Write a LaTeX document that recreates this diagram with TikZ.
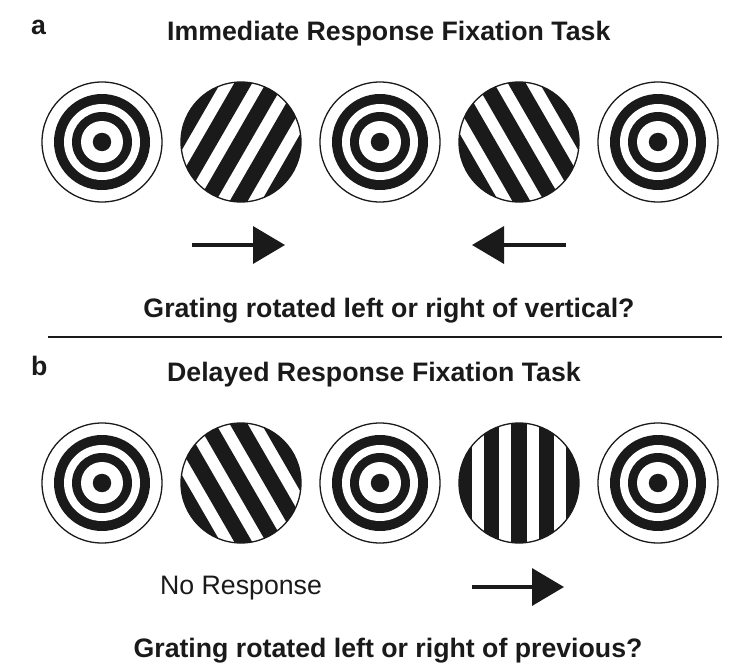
\documentclass[tikz,border=0pt]{standalone}
\usepackage{fontspec}
\setmainfont{Liberation Sans}
\usetikzlibrary{arrows.meta}

\definecolor{ink}{HTML}{1A1A1A}

% fixation target: rings round a dot
\newcommand{\bullseye}[2]{%
  \begin{scope}[shift={(#1,#2)}]
    \fill [ink] (0,0) circle (48);
    \fill [white] (0,0) circle (38);
    \fill [ink] (0,0) circle (30);
    \fill [white] (0,0) circle (21);
    \fill [ink] (0,0) circle (9.2);
    \draw [ink, line width=1.3pt] (0,0) circle (60);
  \end{scope}}

% square-wave grating, #3 = rotation
\newcommand{\grating}[3]{%
  \begin{scope}[shift={(#1,#2)}]
    \begin{scope}
      \clip (0,0) circle (60);
      \fill [white] (0,0) circle (60);
      \begin{scope}[rotate=#3]
        \foreach \k in {-3,...,3}
          \fill [ink] (\k*27.5-7.75,-70) rectangle (\k*27.5+7.75,70);
      \end{scope}
    \end{scope}
    \draw [ink, line width=1.3pt] (0,0) circle (60);
  \end{scope}}

\begin{document}
\begin{tikzpicture}[x=1pt, y=-1pt,
  every node/.style={inner sep=0pt, text=ink},
  bigtext/.style={font=\fontsize{26.7}{32}\selectfont},
  heading/.style={bigtext, font=\fontsize{26.7}{32}\selectfont\bfseries},
  pointer/.style={ink, line width=3.5pt, -{Triangle[length=32pt, width=37pt]}}]

\useasboundingbox (0,0) rectangle (747,664);

% panel a
\node [heading, anchor=base west] (labela) at (31,34) {a};
\node [heading, anchor=base west] (titlea) at (167,40) {Immediate Response Fixation Task};

\bullseye{102}{142}
\grating{241}{142}{-30}
\bullseye{380}{142}
\grating{519}{142}{30}
\bullseye{658}{142}

\coordinate (ra) at (192,245);
\coordinate (rb) at (285,245);
\coordinate (la) at (566,245);
\coordinate (lb) at (472,245);
\draw [pointer] (ra) -- (rb);
\draw [pointer] (la) -- (lb);

\node [heading, anchor=base] (questiona) at (389,317) {Grating rotated left or right of vertical?};

\coordinate (rulea) at (48,337);
\coordinate (ruleb) at (722,337);
\draw [ink, line width=1.5pt] (rulea) -- (ruleb);

% panel b
\node [heading, anchor=base west] (labelb) at (31,375) {b};
\node [heading, anchor=base west] (titleb) at (167,381) {Delayed Response Fixation Task};

\bullseye{102}{483}
\grating{241}{483}{30}
\bullseye{380}{483}
\grating{519}{483}{0}
\bullseye{658}{483}

\node [bigtext, anchor=base west] (noresp) at (160,594) {No Response};

\coordinate (rc) at (472,587);
\coordinate (rd) at (564,587);
\draw [pointer] (rc) -- (rd);

\node [heading, anchor=base] (questionb) at (388,657) {Grating rotated left or right of previous?};
\end{tikzpicture}
\end{document}
